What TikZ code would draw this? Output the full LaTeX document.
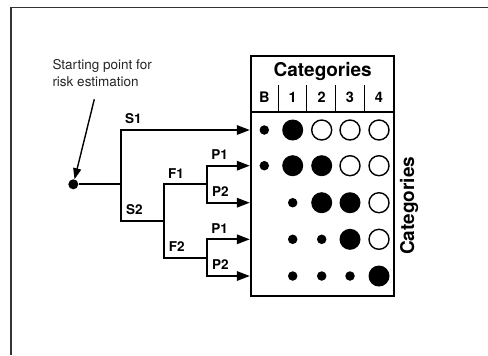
\documentclass[tikz,border=0pt]{standalone}
\usepackage{fontspec}
\setmainfont{TeX Gyre Heros}
\usetikzlibrary{arrows.meta}

\tikzset{
    branch/.style={line width=1.7bp},
    tip/.style={branch, -{Triangle[length=13bp,width=9.5bp]}},
    lbl/.style={font=\fontsize{13.5bp}{15bp}\selectfont\bfseries, inner sep=0pt},
    big/.style={circle, fill, minimum size=21bp, inner sep=0pt},
    open/.style={circle, draw, line width=1.4bp, minimum size=20bp, inner sep=0pt},
    small/.style={circle, fill, minimum size=9.5bp, inner sep=0pt},
}

\begin{document}
\begin{tikzpicture}[x=1bp, y=-1bp]
    \useasboundingbox (0,0) rectangle (488,355);

    % 外框 (只有上边和左边)
    \draw[line width=1.3bp, black!80] (488,7.5) -- (11,7.5) -- (11,355);

    % 表格
    \node[draw, line width=1.8bp, minimum width=143.3bp, minimum height=240bp, inner sep=0pt] (tab) at (322.35,176) {};
    \draw[line width=1.8bp] (tab.west |- 0,112.3) -- (tab.east |- 0,112.3);
    \foreach \x in {278.3, 306.7, 335.7, 364.3} {
        \draw[line width=1.5bp] (\x,85) -- (\x,112.3);
    }
    \node[font=\fontsize{19bp}{21bp}\selectfont\bfseries, inner sep=0pt] (head) at (322.7,71.5) {Categories};
    \node[font=\fontsize{19bp}{21bp}\selectfont\bfseries, inner sep=0pt, rotate=90] (side) at (409,205.7) {Categories};

    % 列和行的位置
    \coordinate (cB) at (264.3,97.3);
    \coordinate (c1) at (292.7,97.3);
    \coordinate (c2) at (321.7,97.3);
    \coordinate (c3) at (350,97.3);
    \coordinate (c4) at (379,97.3);
    \coordinate (r1) at (250.7,130);
    \coordinate (r2) at (250.7,165.7);
    \coordinate (r3) at (250.7,202.7);
    \coordinate (r4) at (250.7,239.3);
    \coordinate (r5) at (250.7,276);

    % 列标题
    \foreach \c in {B,1,2,3,4} {
        \node[font=\fontsize{14.5bp}{16bp}\selectfont\bfseries, inner sep=0pt] (h\c) at (c\c) {\c};
    }

    % 圆点
    \foreach \c/\r/\s in {B/1/small, 1/1/big, 2/1/open, 3/1/open, 4/1/open,
                          B/2/small, 1/2/big, 2/2/big, 3/2/open, 4/2/open,
                          1/3/small, 2/3/big, 3/3/big, 4/3/open,
                          1/4/small, 2/4/small, 3/4/big, 4/4/open,
                          1/5/small, 2/5/small, 3/5/small, 4/5/big} {
        \node[\s] (d\c\r) at (c\c |- r\r) {};
    }

    % 起点和分支
    \node[circle, fill, minimum size=10bp, inner sep=0pt] (start) at (73.3,184.3) {};
    \coordinate (s) at (120.7,184.3);
    \coordinate (f) at (164,221);
    \coordinate (p1) at (206.7,184.3);
    \coordinate (p2) at (206.7,258.3);

    \draw[branch] (start) -- (s);
    \draw[tip] (s) |- (tab.west |- r1);          % S1
    \draw[branch] (s) |- (f);                     % S2
    \draw[branch] (f) |- (p1);                    % F1
    \draw[branch] (f) |- (p2);                    % F2
    \draw[tip] (p1) |- (tab.west |- r2);          % P1
    \draw[tip] (p1) |- (tab.west |- r3);          % P2
    \draw[tip] (p2) |- (tab.west |- r4);          % P1
    \draw[tip] (p2) |- (tab.west |- r5);          % P2

    \node[lbl] (ls1) at (133.3,119) {S1};
    \node[lbl] (ls2) at (134.3,210) {S2};
    \node[lbl] (lf1) at (176,173.3) {F1};
    \node[lbl] (lf2) at (176.7,246.7) {F2};
    \node[lbl] (lp1a) at (219.7,155) {P1};
    \node[lbl] (lp2a) at (220.3,191.7) {P2};
    \node[lbl] (lp1b) at (219.7,228.7) {P1};
    \node[lbl] (lp2b) at (220.3,265) {P2};

    % 说明文字和箭头
    \node[anchor=north west, inner sep=0pt, align=left, text=black!85,
          font=\fontsize{13.5bp}{16.3bp}\selectfont] (note) at (52.3,59.5) {Starting point for\\risk estimation};
    \coordinate (n) at (94.3,99.3);
    \draw[line width=1.4bp, -{Triangle[length=11bp,width=8bp]}] (n) -- (start);
\end{tikzpicture}
\end{document}
